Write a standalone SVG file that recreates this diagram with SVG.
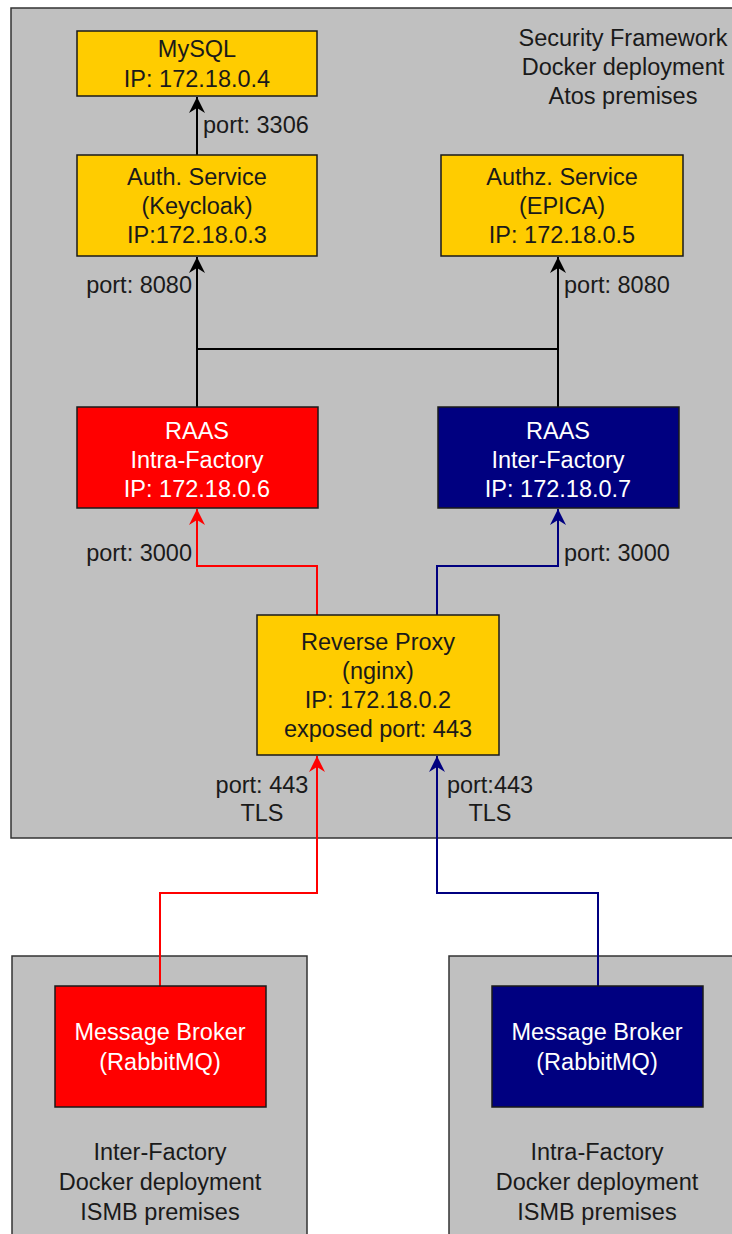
<svg xmlns="http://www.w3.org/2000/svg" width="732" height="1234" viewBox="0 0 732 1234">
<style>
text{font-family:"Liberation Sans",Arial,sans-serif;font-size:23.5px;text-anchor:middle;fill:#1a1a1a}
.w{fill:#ffffff}
.l{text-anchor:start}
.r{text-anchor:end}
.cont{fill:#c0c0c0;stroke:#333;stroke-width:1.5}
.gold{fill:#ffcc00;stroke:#1a1a1a;stroke-width:1.5}
.red{fill:#ff0000;stroke:#1a1a1a;stroke-width:1.5}
.navy{fill:#000080;stroke:#1a1a1a;stroke-width:1.5}
.ck{fill:none;stroke:#000;stroke-width:2}
.cr{fill:none;stroke:#ff0000;stroke-width:2}
.cb{fill:none;stroke:#000080;stroke-width:2}
</style>
<defs>
<marker id="ak" markerUnits="userSpaceOnUse" markerWidth="18" markerHeight="18" refX="16" refY="8" orient="auto"><path d="M0,0 L16,8 L0,16 L5,8 z" fill="#000"/></marker>
<marker id="ar" markerUnits="userSpaceOnUse" markerWidth="18" markerHeight="18" refX="16" refY="8" orient="auto"><path d="M0,0 L16,8 L0,16 L5,8 z" fill="#ff0000"/></marker>
<marker id="ab" markerUnits="userSpaceOnUse" markerWidth="18" markerHeight="18" refX="16" refY="8" orient="auto"><path d="M0,0 L16,8 L0,16 L5,8 z" fill="#000080"/></marker>
</defs>
<rect width="732" height="1234" fill="#ffffff"/>
<g id="sf-container">
<rect class="cont" x="11" y="8" width="740" height="830"/>
<text x="623" y="46">Security Framework</text>
<text x="623" y="75">Docker deployment</text>
<text x="623" y="104">Atos premises</text>
</g>
<g id="inter-container">
<rect class="cont" x="12" y="956" width="295" height="300"/>
<text x="160" y="1160">Inter-Factory</text>
<text x="160" y="1190">Docker deployment</text>
<text x="160" y="1220">ISMB premises</text>
</g>
<g id="intra-container">
<rect class="cont" x="449" y="956" width="300" height="300"/>
<text x="597" y="1160">Intra-Factory</text>
<text x="597" y="1190">Docker deployment</text>
<text x="597" y="1220">ISMB premises</text>
</g>
<g id="connectors">
<path class="ck" d="M197,155 V97" marker-end="url(#ak)"/>
<path class="ck" d="M197,407 V257" marker-end="url(#ak)"/>
<path class="ck" d="M558,407 V257" marker-end="url(#ak)"/>
<path class="ck" d="M197,349 H558"/>
<path class="cr" d="M317,615 V566 H197 V509" marker-end="url(#ar)"/>
<path class="cb" d="M437,615 V566 H558 V509" marker-end="url(#ab)"/>
<path class="cr" d="M160,986 V893 H317 V756" marker-end="url(#ar)"/>
<path class="cb" d="M598,986 V893 H437 V756" marker-end="url(#ab)"/>
<text class="l" x="203" y="133">port: 3306</text>
<text class="r" x="192" y="293">port: 8080</text>
<text class="l" x="564" y="293">port: 8080</text>
<text class="r" x="192" y="561">port: 3000</text>
<text class="l" x="564" y="561">port: 3000</text>
<text x="262" y="793">port: 443</text>
<text x="262" y="821">TLS</text>
<text x="490" y="793">port:443</text>
<text x="490" y="821">TLS</text>
</g>
<g id="mysql">
<rect class="gold" x="77" y="31" width="240" height="65"/>
<text x="197" y="57">MySQL</text>
<text x="197" y="87">IP: 172.18.0.4</text>
</g>
<g id="auth-service">
<rect class="gold" x="77" y="155" width="240" height="101"/>
<text x="197" y="185">Auth. Service</text>
<text x="197" y="214">(Keycloak)</text>
<text x="197" y="243">IP:172.18.0.3</text>
</g>
<g id="authz-service">
<rect class="gold" x="441" y="155" width="242" height="101"/>
<text x="562" y="185">Authz. Service</text>
<text x="562" y="214">(EPICA)</text>
<text x="562" y="243">IP: 172.18.0.5</text>
</g>
<g id="raas-intra">
<rect class="red" x="77" y="407" width="241" height="101"/>
<text class="w" x="197" y="439">RAAS</text>
<text class="w" x="197" y="468">Intra-Factory</text>
<text class="w" x="197" y="497">IP: 172.18.0.6</text>
</g>
<g id="raas-inter">
<rect class="navy" x="438" y="407" width="241" height="101"/>
<text class="w" x="558" y="439">RAAS</text>
<text class="w" x="558" y="468">Inter-Factory</text>
<text class="w" x="558" y="497">IP: 172.18.0.7</text>
</g>
<g id="reverse-proxy">
<rect class="gold" x="257" y="615" width="242" height="140"/>
<text x="378" y="650">Reverse Proxy</text>
<text x="378" y="679">(nginx)</text>
<text x="378" y="708">IP: 172.18.0.2</text>
<text x="378" y="737">exposed port: 443</text>
</g>
<g id="broker-red">
<rect class="red" x="55" y="986" width="211" height="121"/>
<text class="w" x="160" y="1040">Message Broker</text>
<text class="w" x="160" y="1070">(RabbitMQ)</text>
</g>
<g id="broker-blue">
<rect class="navy" x="492" y="986" width="211" height="121"/>
<text class="w" x="597" y="1040">Message Broker</text>
<text class="w" x="597" y="1070">(RabbitMQ)</text>
</g>
</svg>
